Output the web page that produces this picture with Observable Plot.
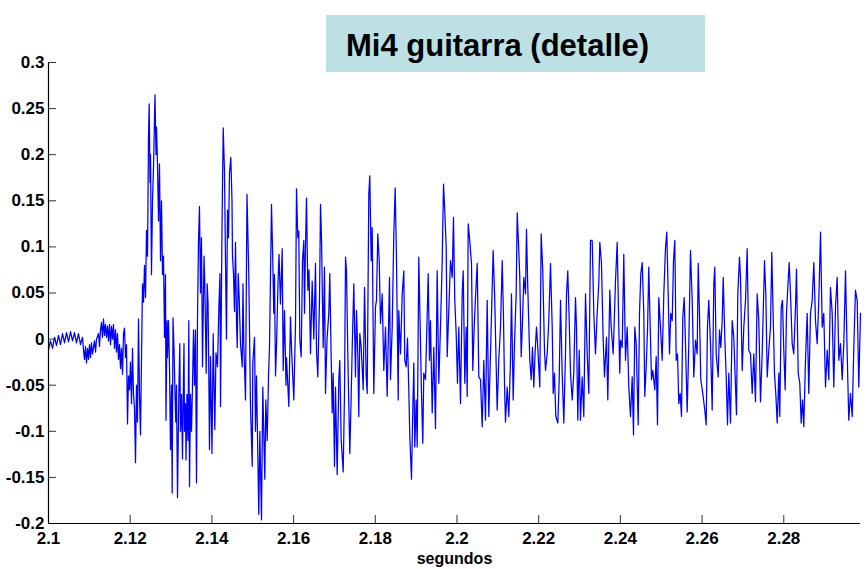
<!DOCTYPE html>
<html>
<head>
<meta charset="utf-8">
<script src="https://cdn.jsdelivr.net/npm/d3@7"></script>
<script src="https://cdn.jsdelivr.net/npm/@observablehq/plot@0.6"></script>
<style>
  body { margin: 0; background: #fff; }
  #wrap { position: relative; width: 867px; height: 569px; }
  #title { position: absolute; left: 326px; top: 15px; width: 379px; height: 57px; background: #bce0e3; }
  #title span { position: absolute; left: 20px; top: 15px; font: bold 31px "Liberation Sans", Arial, sans-serif; line-height: 31px; white-space: nowrap; color: #000; }
</style>
</head>
<body>
<div id="wrap"><div id="chart"></div><div id="title"><span id="titleText"></span></div></div>
<script>
const titleText = "Mi4 guitarra (detalle)";
const xLabel = "segundos";
const xTicks = [2.1, 2.12, 2.14, 2.16, 2.18, 2.2, 2.22, 2.24, 2.26, 2.28];
const yTicks = [-0.2, -0.15, -0.1, -0.05, 0, 0.05, 0.1, 0.15, 0.2, 0.25, 0.3];

// time (s)
const time = [
2.10000,2.10049,2.10098,2.10147,2.10196,2.10245,2.10294,2.10343,2.10392,2.10441,
2.10490,2.10539,2.10588,2.10636,2.10685,2.10734,2.10783,2.10832,2.10857,2.10881,
2.10906,2.10930,2.10955,2.10979,2.11004,2.11028,2.11053,2.11077,2.11126,2.11151,
2.11175,2.11224,2.11248,2.11273,2.11297,2.11322,2.11346,2.11371,2.11395,2.11420,
2.11444,2.11469,2.11493,2.11518,2.11542,2.11567,2.11591,2.11616,2.11640,2.11665,
2.11689,2.11714,2.11738,2.11763,2.11787,2.11812,2.11836,2.11860,2.11885,2.11909,
2.11934,2.11958,2.11983,2.12007,2.12032,2.12056,2.12081,2.12105,2.12130,2.12154,
2.12179,2.12203,2.12228,2.12252,2.12277,2.12301,2.12326,2.12350,2.12375,2.12399,
2.12424,2.12448,2.12465,2.12485,2.12497,2.12521,2.12546,2.12570,2.12607,2.12632,
2.12644,2.12668,2.12693,2.12717,2.12742,2.12766,2.12791,2.12815,2.12840,2.12864,
2.12876,2.12901,2.12913,2.12938,2.12962,2.12987,2.13011,2.13028,2.13048,2.13072,
2.13097,2.13116,2.13133,2.13158,2.13190,2.13214,2.13231,2.13256,2.13280,2.13305,
2.13317,2.13329,2.13354,2.13366,2.13390,2.13415,2.13435,2.13452,2.13476,2.13501,
2.13525,2.13550,2.13574,2.13599,2.13623,2.13648,2.13672,2.13696,2.13721,2.13745,
2.13770,2.13807,2.13826,2.13861,2.13885,2.13905,2.13924,2.13941,2.13966,2.14002,
2.14032,2.14071,2.14100,2.14137,2.14174,2.14198,2.14211,2.14247,2.14277,2.14308,
2.14333,2.14357,2.14382,2.14406,2.14431,2.14463,2.14492,2.14504,2.14529,2.14553,
2.14578,2.14602,2.14620,2.14644,2.14668,2.14700,2.14742,2.14761,2.14781,2.14823,
2.14859,2.14903,2.14945,2.14987,2.15001,2.15043,2.15067,2.15092,2.15148,2.15173,
2.15214,2.15246,2.15295,2.15320,2.15354,2.15386,2.15410,2.15459,2.15491,2.15515,
2.15532,2.15557,2.15581,2.15618,2.15643,2.15679,2.15721,2.15745,2.15777,2.15814,
2.15826,2.15883,2.15924,2.15949,2.16005,2.16047,2.16071,2.16103,2.16127,2.16152,
2.16186,2.16218,2.16250,2.16267,2.16291,2.16316,2.16348,2.16377,2.16414,2.16455,
2.16495,2.16536,2.16561,2.16592,2.16634,2.16659,2.16683,2.16725,2.16756,2.16781,
2.16818,2.16862,2.16886,2.16921,2.16945,2.16969,2.17001,2.17026,2.17067,2.17107,
2.17131,2.17165,2.17214,2.17246,2.17271,2.17295,2.17327,2.17351,2.17376,2.17410,
2.17435,2.17474,2.17515,2.17540,2.17572,2.17596,2.17621,2.17655,2.17704,2.17736,
2.17777,2.17802,2.17841,2.17865,2.17900,2.17924,2.17963,2.18005,2.18029,2.18061,
2.18096,2.18127,2.18169,2.18208,2.18250,2.18291,2.18348,2.18372,2.18414,2.18453,
2.18487,2.18519,2.18561,2.18575,2.18617,2.18659,2.18698,2.18722,2.18756,2.18788,
2.18820,2.18845,2.18886,2.18918,2.18943,2.18967,2.19001,2.19026,2.19065,2.19089,
2.19131,2.19163,2.19187,2.19229,2.19271,2.19295,2.19327,2.19351,2.19393,2.19432,
2.19474,2.19515,2.19555,2.19596,2.19638,2.19670,2.19701,2.19736,2.19760,2.19799,
2.19841,2.19883,2.19914,2.19946,2.19980,2.20012,2.20044,2.20086,2.20127,2.20152,
2.20191,2.20225,2.20250,2.20274,2.20306,2.20355,2.20387,2.20421,2.20453,2.20495,
2.20534,2.20575,2.20617,2.20656,2.20698,2.20739,2.20779,2.20820,2.20862,2.20886,
2.20925,2.20960,2.20984,2.21023,2.21065,2.21107,2.21138,2.21163,2.21187,2.21229,
2.21268,2.21310,2.21334,2.21376,2.21408,2.21449,2.21474,2.21513,2.21537,2.21572,
2.21604,2.21635,2.21677,2.21701,2.21733,2.21782,2.21817,2.21848,2.21880,2.21914,
2.21946,2.21978,2.22027,2.22061,2.22100,2.22142,2.22167,2.22208,2.22247,2.22289,
2.22331,2.22355,2.22387,2.22419,2.22468,2.22502,2.22534,2.22575,2.22615,2.22656,
2.22681,2.22712,2.22747,2.22779,2.22820,2.22859,2.22901,2.22925,2.22957,2.22992,
2.23023,2.23065,2.23104,2.23146,2.23187,2.23227,2.23268,2.23310,2.23349,2.23391,
2.23432,2.23471,2.23496,2.23537,2.23579,2.23611,2.23660,2.23692,2.23741,2.23775,
2.23824,2.23880,2.23922,2.23961,2.23985,2.24003,2.24044,2.24083,2.24125,2.24167,
2.24206,2.24247,2.24289,2.24321,2.24353,2.24387,2.24436,2.24468,2.24500,2.24534,
2.24573,2.24597,2.24632,2.24664,2.24695,2.24730,2.24761,2.24793,2.24842,2.24876,
2.24908,2.24940,2.24982,2.25023,2.25063,2.25104,2.25136,2.25170,2.25202,2.25234,
2.25268,2.25300,2.25332,2.25366,2.25398,2.25430,2.25464,2.25496,2.25528,2.25562,
2.25594,2.25635,2.25675,2.25716,2.25758,2.25797,2.25839,2.25880,2.25905,2.25936,
2.25968,2.26017,2.26066,2.26100,2.26132,2.26164,2.26206,2.26247,2.26287,2.26311,
2.26345,2.26394,2.26426,2.26458,2.26492,2.26517,2.26556,2.26590,2.26622,2.26654,
2.26695,2.26737,2.26776,2.26842,2.26874,2.26916,2.26940,2.26982,2.27021,2.27063,
2.27104,2.27143,2.27185,2.27227,2.27266,2.27307,2.27349,2.27388,2.27430,2.27471,
2.27496,2.27528,2.27560,2.27594,2.27633,2.27675,2.27706,2.27741,2.27772,2.27804,
2.27839,2.27878,2.27902,2.27937,2.27968,2.28000,2.28034,2.28066,2.28098,2.28132,
2.28164,2.28206,2.28245,2.28287,2.28311,2.28353,2.28392,2.28426,2.28458,2.28490,
2.28531,2.28573,2.28612,2.28654,2.28695,2.28735,2.28776,2.28818,2.28857,2.28899,
2.28940,2.28979,2.29021,2.29063,2.29102,2.29143,2.29185,2.29224,2.29266,2.29307,
2.29347,2.29388,2.29430,2.29469,2.29511,2.29552,2.29591,2.29633,2.29675,2.29714,
2.29755,2.29797,2.29836,2.29878
];

// amplitude
const amplitude = [
-0.012,-0.002,-0.010,0.002,-0.007,0.004,-0.006,0.006,-0.004,0.007,
-0.003,0.008,-0.002,0.007,-0.004,0.006,-0.006,0.002,-0.012,-0.022,
-0.008,-0.026,-0.010,-0.022,-0.006,-0.020,-0.004,-0.016,-0.002,-0.014,
0.000,0.006,-0.008,0.010,0.018,0.002,0.022,0.004,0.016,0.002,
0.014,-0.002,0.016,-0.006,0.014,0.000,0.016,-0.010,0.010,-0.014,
0.006,-0.022,-0.006,-0.032,-0.010,-0.038,0.006,0.012,-0.020,-0.006,
-0.092,-0.040,-0.055,-0.025,-0.070,-0.010,-0.060,-0.075,-0.134,-0.050,
-0.090,0.022,-0.060,-0.104,-0.020,0.060,0.040,0.080,0.045,0.118,
0.090,0.218,0.255,0.170,0.200,0.070,0.150,0.185,0.265,0.200,
0.230,0.190,0.128,0.190,0.085,0.150,0.070,0.090,0.002,0.070,
-0.088,0.020,-0.020,0.020,-0.030,-0.120,-0.050,-0.167,0.023,-0.010,
-0.060,-0.090,-0.050,-0.172,-0.060,-0.005,-0.100,-0.060,-0.130,-0.040,
-0.005,-0.100,-0.070,-0.131,-0.060,-0.110,0.020,-0.160,-0.060,-0.100,
-0.050,0.010,-0.050,0.010,-0.156,0.024,0.106,0.144,0.050,0.110,
-0.030,0.090,0.060,-0.037,0.060,0.040,-0.034,-0.120,-0.019,-0.124,
0.006,-0.098,-0.015,-0.030,0.040,0.071,-0.073,0.120,0.229,0.182,
0.085,0.000,0.140,0.110,0.180,0.197,0.150,0.090,0.071,0.030,
0.105,0.020,-0.009,0.071,0.045,-0.005,-0.030,0.060,-0.005,-0.066,
0.157,0.070,-0.073,-0.138,-0.026,0.002,-0.100,-0.040,-0.190,-0.100,
-0.196,-0.052,-0.152,-0.066,-0.110,-0.040,-0.009,0.146,0.085,0.028,
0.070,-0.040,-0.009,0.060,0.092,0.038,0.098,-0.034,0.031,-0.050,
-0.020,-0.073,0.024,-0.010,-0.066,0.017,0.163,0.110,0.117,0.000,
-0.019,0.085,0.107,0.028,0.099,0.153,0.053,0.075,-0.016,0.063,
0.000,0.082,-0.012,-0.041,0.042,0.146,0.110,-0.009,0.078,-0.059,
0.000,0.028,0.071,-0.023,-0.080,-0.037,-0.138,-0.052,-0.147,-0.044,
-0.023,-0.109,-0.144,-0.059,0.089,0.074,-0.016,-0.070,-0.124,-0.062,
-0.009,0.060,-0.041,0.031,-0.016,-0.084,0.006,-0.009,-0.055,0.056,
-0.041,-0.059,0.157,0.177,0.085,0.121,-0.059,0.035,0.042,0.114,
0.085,0.017,0.049,-0.034,0.013,-0.062,0.067,-0.044,0.013,0.114,
0.164,0.085,-0.066,0.031,-0.016,0.049,0.074,-0.023,-0.030,0.001,
-0.055,-0.106,-0.152,-0.077,-0.026,-0.117,-0.066,-0.117,0.089,0.035,
-0.059,-0.113,-0.037,-0.044,0.028,0.071,-0.023,0.020,-0.080,-0.009,
-0.097,0.074,-0.048,0.013,0.085,0.168,0.139,0.099,-0.019,0.031,
0.085,0.067,0.132,0.042,0.006,-0.048,0.013,-0.070,0.049,0.074,
-0.048,0.013,-0.062,0.125,0.110,0.082,-0.034,0.013,0.045,0.082,
-0.041,-0.044,-0.095,-0.023,-0.088,0.042,-0.084,-0.016,0.056,0.096,
0.042,-0.030,-0.077,-0.023,0.013,0.085,0.024,-0.048,-0.090,-0.052,
-0.084,-0.023,0.049,-0.066,-0.005,0.049,0.137,0.096,0.067,-0.019,
0.020,0.067,0.049,0.119,0.056,-0.023,-0.044,-0.009,-0.052,-0.012,
0.013,-0.009,-0.052,0.114,0.074,-0.012,-0.034,-0.016,0.020,0.082,
0.013,-0.059,-0.037,-0.084,-0.091,-0.044,0.042,-0.037,-0.091,-0.016,
0.049,0.074,0.020,-0.037,-0.066,-0.037,0.045,0.013,-0.088,-0.012,
-0.088,-0.041,-0.084,0.049,-0.016,-0.059,0.107,0.107,0.028,-0.016,
0.028,0.060,0.105,0.082,-0.001,-0.041,0.002,-0.066,0.053,0.013,
-0.016,0.063,0.105,0.013,-0.037,-0.001,-0.009,0.092,-0.023,0.013,
-0.052,-0.084,-0.041,-0.104,0.013,-0.005,-0.093,0.028,0.071,0.083,
0.028,-0.062,-0.030,0.010,0.078,0.013,-0.044,-0.034,-0.055,-0.019,
-0.093,0.045,0.013,-0.023,0.049,0.099,0.116,0.049,-0.016,0.028,
0.020,0.085,0.107,-0.023,-0.016,-0.070,-0.059,-0.084,0.024,0.045,
-0.005,-0.079,-0.005,0.096,0.042,-0.041,-0.001,-0.016,0.082,0.028,
-0.044,-0.059,-0.077,-0.093,0.013,0.042,-0.005,-0.077,0.060,0.078,
-0.016,-0.041,0.010,-0.009,0.020,0.067,0.002,-0.041,-0.093,-0.037,
-0.091,0.020,0.002,-0.082,0.049,0.089,0.067,-0.034,0.013,0.042,
0.098,-0.012,-0.016,-0.059,-0.016,-0.068,0.049,0.020,-0.068,-0.016,
0.028,0.085,0.049,-0.041,-0.012,0.013,0.094,0.024,-0.037,-0.059,
-0.091,-0.037,-0.084,0.035,0.042,-0.012,-0.055,0.028,0.056,0.083,
0.049,-0.005,-0.016,0.035,0.076,-0.037,-0.048,-0.091,-0.066,-0.095,
-0.023,0.028,-0.059,0.028,0.042,0.083,0.020,-0.005,0.042,0.116,
0.013,0.028,-0.052,-0.012,-0.044,0.056,0.028,-0.052,0.035,0.067,
-0.023,-0.005,-0.044,-0.005,0.074,-0.016,-0.088,-0.059,-0.084,-0.009,
0.053,0.042,-0.052,0.028
];

document.getElementById("titleText").textContent = titleText;

const n = Math.min(time.length, amplitude.length);
const data = d3.range(n).map(i => ({t: time[i], v: amplitude[i]}));
const fmt = d => String(+d.toFixed(2));
const font = '"Liberation Sans", Arial, Helvetica, sans-serif';

const chart = Plot.plot({
  width: 867,
  height: 569,
  marginLeft: 48,
  marginRight: 7,
  marginTop: 62,
  marginBottom: 46,
  style: {fontFamily: font, fontWeight: "bold", fontSize: "17px", color: "#000", background: "#fff"},
  x: {domain: [2.1, 2.29878]},
  y: {domain: [-0.2, 0.3]},
  marks: [
    Plot.line(data, {x: "t", y: "v", stroke: "#0000ff", strokeWidth: 1.25}),
    Plot.axisX(xTicks, {tickSize: -8, tickPadding: 16, tickFormat: fmt, stroke: "#333", fontSize: 17, fontWeight: "bold", label: null}),
    Plot.axisY(yTicks, {tickSize: -8, tickPadding: 12, tickFormat: fmt, stroke: "#333", fontSize: 17, fontWeight: "bold", label: null}),
    Plot.ruleY([-0.2], {stroke: "#000", strokeWidth: 1.2}),
    Plot.ruleX([2.1], {stroke: "#000", strokeWidth: 1.2}),
    Plot.text([xLabel], {frameAnchor: "bottom", dy: 40, fontSize: 16, fontWeight: "bold", fill: "#000"})
  ]
});
document.getElementById("chart").appendChild(chart);
</script>
</body>
</html>
